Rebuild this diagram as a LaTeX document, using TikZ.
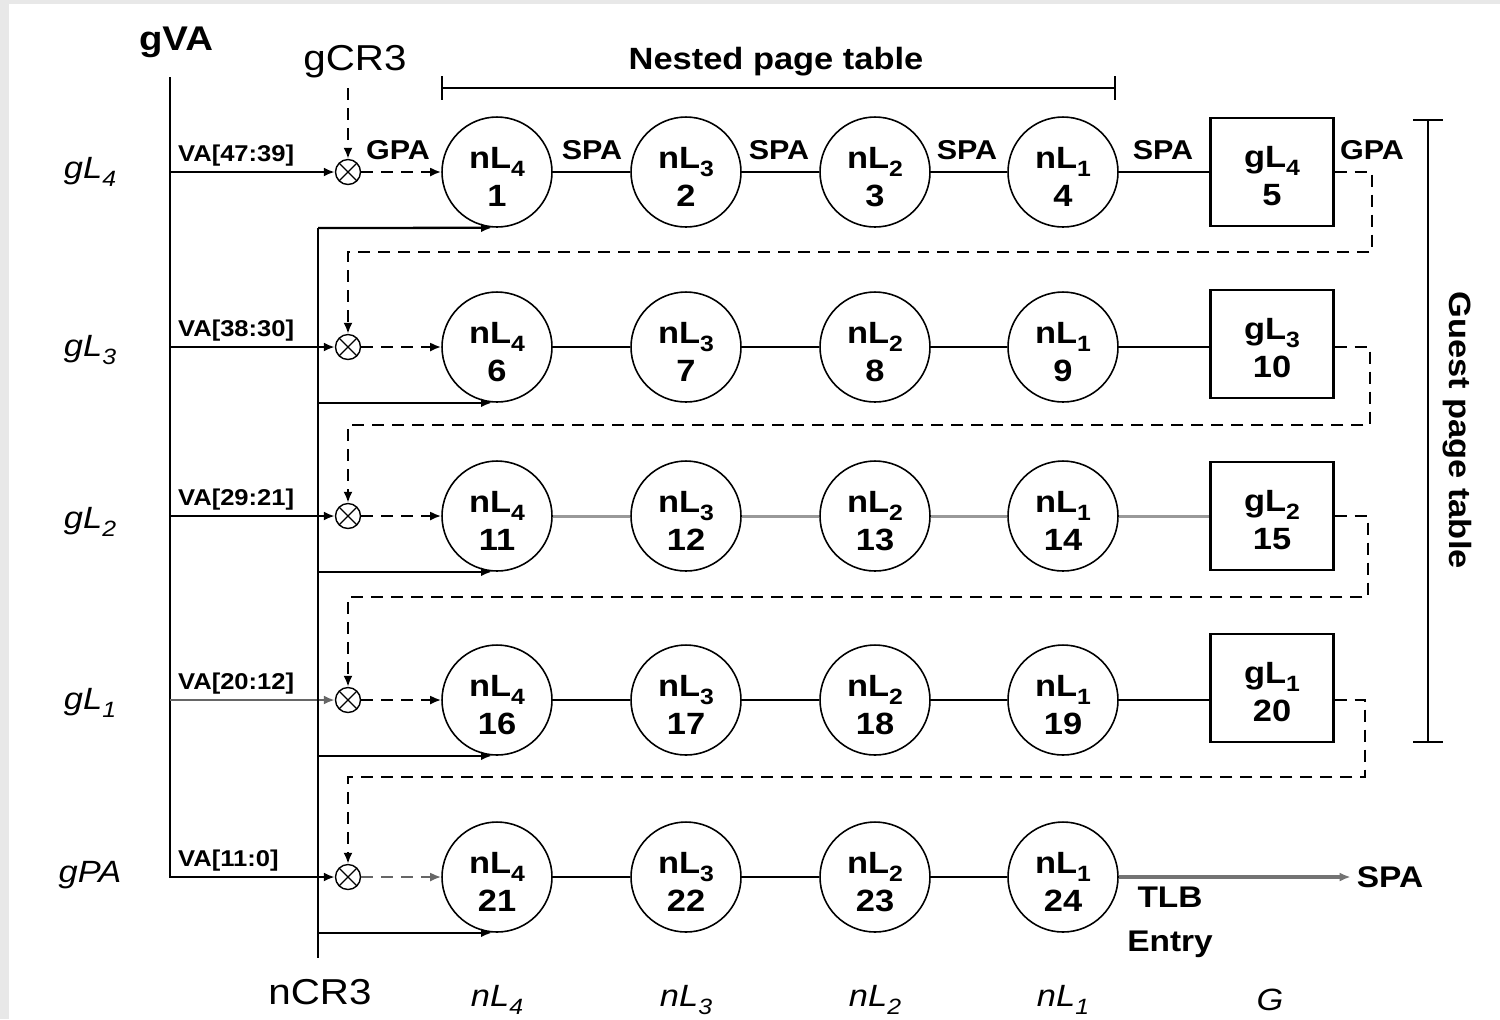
\documentclass[tikz,border=0pt]{standalone}
\usepackage{fontspec}
\setmainfont[FakeStretch=1.12]{Liberation Sans}
\usetikzlibrary{arrows.meta}
% font size helper and lowered index for level names
\newcommand\fsz[2]{\fontsize{#1}{#2}\selectfont}
\newcommand\lsub[1]{\raisebox{-0.5ex}{\scalebox{0.72}{#1}}}
\begin{document}
\begin{tikzpicture}[x=0.02cm,y=-0.02cm,
  wire/.style={line width=1.3pt},
  flow/.style={wire,-{Latex[length=2.2mm,width=1.8mm]}},
  dflow/.style={flow,dash pattern=on 2.4mm off 1.6mm},
  lvl/.style={circle,draw,line width=0.9pt,minimum size=2.2cm,inner sep=0pt},
  gbox/.style={rectangle,draw,line width=1.3pt,minimum width=2.46cm,
    minimum height=2.16cm,inner sep=0pt},
  lvltxt/.style={align=center,inner sep=0pt,font=\bfseries\fsz{17.5}{21.5}},
  mult/.style={circle,draw,line width=0.8pt,minimum size=0.5cm,inner sep=0pt,
    path picture={
      \draw[line width=0.7pt] (path picture bounding box.north west) -- (path picture bounding box.south east)
        (path picture bounding box.north east) -- (path picture bounding box.south west);}},
  tag/.style={font=\bfseries\fsz{15.5}{17}},
  va/.style={font=\bfseries\fsz{13}{15},anchor=south west,inner sep=1pt},
  side/.style={font=\itshape\fsz{17.5}{20}},
  big/.style={font=\bfseries\fsz{19.5}{22}},
  bracket/.style={line width=1.3pt},
  faint/.style={draw=black!40,line width=1.7pt}
]
% page background
\fill[black!9] (0,0) rectangle (1500,1019);
\fill[white] (9,4) rectangle (1500,1019);
\useasboundingbox (0,0) rectangle (1500,1019);

% nested walk levels, one row per guest level
\foreach \r/\y/\a/\b/\c/\d in {1/172/1/2/3/4, 2/347/6/7/8/9, 3/516/11/12/13/14,
                               4/700/16/17/18/19, 5/877/21/22/23/24} {
  \node[mult] (m\r) at (348,\y) {};
  \node[lvl] (n\a) at (497,\y) {};
  \node[lvl] (n\b) at (686,\y) {};
  \node[lvl] (n\c) at (875,\y) {};
  \node[lvl] (n\d) at (1063,\y) {};
  \node[lvltxt] (t\a) at ([yshift=-0.1cm]n\a.center) {nL\lsub{4}\\\a};
  \node[lvltxt] (t\b) at ([yshift=-0.1cm]n\b.center) {nL\lsub{3}\\\b};
  \node[lvltxt] (t\c) at ([yshift=-0.1cm]n\c.center) {nL\lsub{2}\\\c};
  \node[lvltxt] (t\d) at ([yshift=-0.1cm]n\d.center) {nL\lsub{1}\\\d};
}
% guest page table entries
\node[gbox] (g5)  at (1272,172) {};
\node[gbox] (g10) at (1272,344) {};
\node[gbox] (g15) at (1272,516) {};
\node[gbox] (g20) at (1272,688) {};
\node[lvltxt] (t5)  at ([yshift=-0.08cm]g5.center)  {gL\lsub{4}\\5};
\node[lvltxt] (t10) at ([yshift=-0.08cm]g10.center) {gL\lsub{3}\\10};
\node[lvltxt] (t15) at ([yshift=-0.08cm]g15.center) {gL\lsub{2}\\15};
\node[lvltxt] (t20) at ([yshift=-0.08cm]g20.center) {gL\lsub{1}\\20};

% links along each row
\draw[wire] (n1) -- (n2) -- (n3) -- (n4) -- (g5);
\draw[wire] (n6) -- (n7) -- (n8) -- (n9) -- (n9 -| g10.west);
\draw[wire,faint] (n11) -- (n12) -- (n13) -- (n14) -- (g15);
\draw[wire] (n16) -- (n17) -- (n18) -- (n19) -- (n19 -| g20.west);
\draw[wire] (n21) -- (n22) -- (n23) -- (n24);

% row labels
\node[tag] at (398,150) {GPA};
\node[tag] at (592,150) {SPA};
\node[tag] at (779,150) {SPA};
\node[tag] at (967,150) {SPA};
\node[tag] at (1163,150) {SPA};
\node[tag] at (1372,150) {GPA};

% guest virtual address and its index fields
\node[big] (gva) at (176,42) {gVA};
\coordinate (vtop) at (170,77);
\draw[flow] (vtop) |- (m5.west);
\draw[flow] (vtop |- m1) -- (m1.west);
\draw[flow] (vtop |- m2) -- (m2.west);
\draw[flow] (vtop |- m3) -- (m3.west);
\draw[flow,draw=black!60] (vtop |- m4) -- (m4.west);
\node[va] at (176,168) {VA[47:39]};
\node[va] at (176,343) {VA[38:30]};
\node[va] at (176,512) {VA[29:21]};
\node[va] at (176,696) {VA[20:12]};
\node[va] at (176,873) {VA[11:0]};

% guest CR3 feeds the first guest level
\node[big,font=\fsz{20.5}{22}] (gcr3) at (355,62) {gCR3};
\coordinate (gtop) at (348,88);
\draw[dflow] (gtop) -- (m1.north);

% index combined with base gives the guest physical address
\draw[dflow] (m1) -- (n1);
\draw[dflow] (m2) -- (n6);
\draw[dflow] (m3) -- (n11);
\draw[dflow] (m4) -- (n16);
\draw[dflow,draw=black!60] (m5) -- (n21);

% nested CR3 starts every nested walk
\coordinate (ntop) at (318,228);
\coordinate (nbot) at (318,958);
\draw[wire] (ntop) -- (nbot);
\draw[flow] (ntop) -- ([xshift=-1mm]n1.south);
\draw[flow] (ntop |- n6.south) -- ([xshift=-1mm]n6.south);
\draw[flow] (ntop |- n11.south) -- ([xshift=-1mm]n11.south);
\draw[flow] (ntop |- n16.south) -- ([xshift=-1mm]n16.south);
\draw[flow] (ntop |- n21.south) -- ([xshift=-1mm]n21.south);
\node[big,font=\fsz{20.5}{22}] (ncr3) at (320,992) {nCR3};

% each guest entry returns a GPA to the next level
\draw[dflow] (n4 -| g5.east)   -| (1372,252) -| (m2.north);
\draw[dflow] (n9 -| g10.east)  -| (1370,425) -| (m3.north);
\draw[dflow] (n14 -| g15.east) -| (1368,597) -| (m4.north);
\draw[dflow] (n19 -| g20.east) -| (1365,777) -| (m5.north);

% final translation
\node[font=\bfseries\fsz{17}{19}] (spa) at (1390,877) {SPA};
\draw[flow,draw=black!55,line width=1.8pt] (n24) -- (spa);
\node[font=\bfseries\fsz{17}{25},align=center] (tlb) at (1170,922) {TLB\\Entry};

% guest level names on the left
\node[side] at (90,172) {gL\lsub{4}};
\node[side] at (90,350) {gL\lsub{3}};
\node[side] at (90,522) {gL\lsub{2}};
\node[side] at (90,703) {gL\lsub{1}};
\node[side] at (90,875) {gPA};

% column names at the bottom
\node[side] at (497,1000) {nL\lsub{4}};
\node[side] at (686,1000) {nL\lsub{3}};
\node[side] at (875,1000) {nL\lsub{2}};
\node[side] at (1063,1000) {nL\lsub{1}};
\node[side] at (1270,1000) {G};

% nested page table span
\draw[bracket] (442,88) -- (1115,88) (442,76) -- (442,100) (1115,76) -- (1115,100);
\node[font=\bfseries\fsz{17.5}{20}] at (776,62) {Nested page table};

% guest page table span
\draw[bracket] (1428,120) -- (1428,742) (1413,120) -- (1443,120) (1413,742) -- (1443,742);
\node[font=\bfseries\fsz{17.5}{20},rotate=-90] at (1457,430) {Guest page table};
\end{tikzpicture}
\end{document}
